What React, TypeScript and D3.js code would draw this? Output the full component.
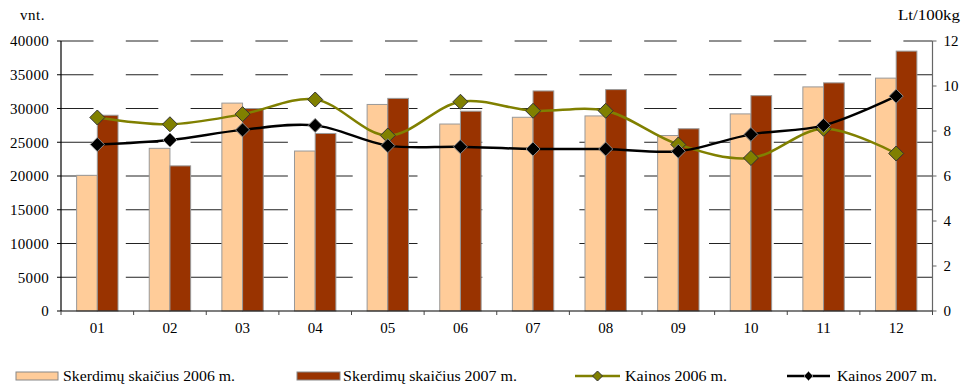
import React from "react";
import * as d3 from "d3";

const months = ["01", "02", "03", "04", "05", "06", "07", "08", "09", "10", "11", "12"];
const count2006 = [20100, 24100, 30800, 23700, 30600, 27700, 28700, 28900, 26000, 29200, 33200, 34500];
const count2007 = [29000, 21500, 30000, 26300, 31500, 29600, 32600, 32800, 27000, 31900, 33800, 38500];
const price2006 = [8.6, 8.3, 8.75, 9.4, 7.8, 9.3, 8.9, 8.9, 7.4, 6.8, 8.1, 7.0];
const price2007 = [7.4, 7.6, 8.05, 8.25, 7.35, 7.3, 7.2, 7.2, 7.1, 7.85, 8.25, 9.55];
const leftTicks = [0, 5000, 10000, 15000, 20000, 25000, 30000, 35000, 40000];
const rightTicks = [0, 2, 4, 6, 8, 10, 12];

const W = 963, H = 385;
const L = 61, R = 932.5, T = 41, B = 311;
const FONT = "Liberation Serif, DejaVu Serif, Times New Roman, serif";
const C_LIGHT = "#FFCC99", C_DARK = "#993300", C_OLIVE = "#808000";

function diamond(cx: number, cy: number, r: number) {
  return `M${cx},${cy - r}L${cx + r},${cy}L${cx},${cy + r}L${cx - r},${cy}Z`;
}

export default function App() {
  const x0 = d3.scaleBand<string>().domain(months).range([L, R]).paddingInner(0.43).paddingOuter(0.215);
  const x1 = d3.scaleBand<string>().domain(["a", "b"]).range([0, x0.bandwidth()]);
  const step = (R - L) / months.length;
  const yL = d3.scaleLinear().domain([0, 40000]).range([B, T]);
  const yR = d3.scaleLinear().domain([0, 12]).range([B, T]);
  const cx = (m: string) => (x0(m) as number) + x0.bandwidth() / 2;
  const line = d3.line<number>().x((_, i) => cx(months[i])).y((v) => yR(v)).curve(d3.curveCatmullRom.alpha(0.5));
  const ts = { fontFamily: FONT } as React.CSSProperties;

  return (
    <svg width={W} height={H} style={{ position: "fixed", left: 0, top: 0, background: "#fff", fontFamily: FONT }}>
      <rect width={W} height={H} fill="#fff" />
      {leftTicks.filter((t) => t > 0).map((t) => (
        <line key={"g" + t} x1={L} x2={R} y1={yL(t)} y2={yL(t)} stroke="#222" strokeWidth={1} strokeDasharray="32.5 32.3" />
      ))}
      {months.map((m, i) => (
        <g key={"b" + m}>
          <rect x={(x0(m) as number) + (x1("a") as number)} y={yL(count2006[i])} width={x1.bandwidth()} height={B - yL(count2006[i])} fill={C_LIGHT} stroke="#999" strokeWidth={1} />
          <rect x={(x0(m) as number) + (x1("b") as number)} y={yL(count2007[i])} width={x1.bandwidth()} height={B - yL(count2007[i])} fill={C_DARK} stroke="#999" strokeWidth={1} />
        </g>
      ))}
      <line x1={L} x2={L} y1={T} y2={B} stroke="#000" strokeWidth={1.2} />
      <line x1={R} x2={R} y1={T} y2={B} stroke="#666" strokeWidth={1.2} />
      <line x1={L} x2={R} y1={B} y2={B} stroke="#000" strokeWidth={1.2} />
      {leftTicks.map((t) => (
        <g key={"l" + t}>
          <line x1={L - 4} x2={L} y1={yL(t)} y2={yL(t)} stroke="#000" />
          <text style={ts} x={L - 12} y={yL(t)} dy="0.35em" textAnchor="end" fontSize={15} letterSpacing={0.3}>{t}</text>
        </g>
      ))}
      {rightTicks.map((t) => (
        <g key={"r" + t}>
          <line x1={R} x2={R + 4} y1={yR(t)} y2={yR(t)} stroke="#666" />
          <text style={ts} x={R + 11} y={yR(t)} dy="0.35em" textAnchor="start" fontSize={15}>{t}</text>
        </g>
      ))}
      {d3.range(months.length + 1).map((i) => (
        <line key={"xt" + i} x1={L + i * step} x2={L + i * step} y1={B} y2={B + 4} stroke="#444" />
      ))}
      {months.map((m) => (
        <text style={ts} key={"xl" + m} x={cx(m)} y={333} textAnchor="middle" fontSize={15}>{m}</text>
      ))}
      <text style={ts} x={20} y={20} fontSize={15} letterSpacing={0.5}>vnt.</text>
      <text style={ts} x={898} y={20} fontSize={15} textLength={62} lengthAdjust="spacingAndGlyphs">Lt/100kg</text>
      <path d={line(price2006) as string} fill="none" stroke={C_OLIVE} strokeWidth={2.5} />
      {price2006.map((v, i) => (
        <path key={"o" + i} d={diamond(cx(months[i]), yR(v), 7.5)} fill={C_OLIVE} stroke="#333" strokeWidth={1} />
      ))}
      <path d={line(price2007) as string} fill="none" stroke="#000" strokeWidth={2.5} />
      {price2007.map((v, i) => (
        <path key={"k" + i} d={diamond(cx(months[i]), yR(v), 7)} fill="#000" stroke="#888" strokeWidth={1} />
      ))}
      <rect x={16} y={372} width={42} height={8} fill={C_LIGHT} stroke="#888" />
      <text style={ts} x={63} y={381} fontSize={15} textLength={172} lengthAdjust="spacingAndGlyphs">Skerdimų skaičius 2006 m.</text>
      <rect x={297} y={372} width={43} height={8} fill={C_DARK} stroke="#888" />
      <text style={ts} x={343} y={381} fontSize={15} textLength={174} lengthAdjust="spacingAndGlyphs">Skerdimų skaičius 2007 m.</text>
      <line x1={575} x2={620} y1={376} y2={376} stroke={C_OLIVE} strokeWidth={2.5} />
      <path d={diamond(597.5, 376, 5)} fill={C_OLIVE} stroke="#333" />
      <text style={ts} x={625} y={381} fontSize={15} textLength={102} lengthAdjust="spacingAndGlyphs">Kainos 2006 m.</text>
      <line x1={787} x2={830} y1={376} y2={376} stroke="#000" strokeWidth={2.5} />
      <path d={diamond(808.5, 376, 4.5)} fill="#000" stroke="#888" />
      <text style={ts} x={837} y={381} fontSize={15} textLength={100} lengthAdjust="spacingAndGlyphs">Kainos 2007 m.</text>
    </svg>
  );
}
